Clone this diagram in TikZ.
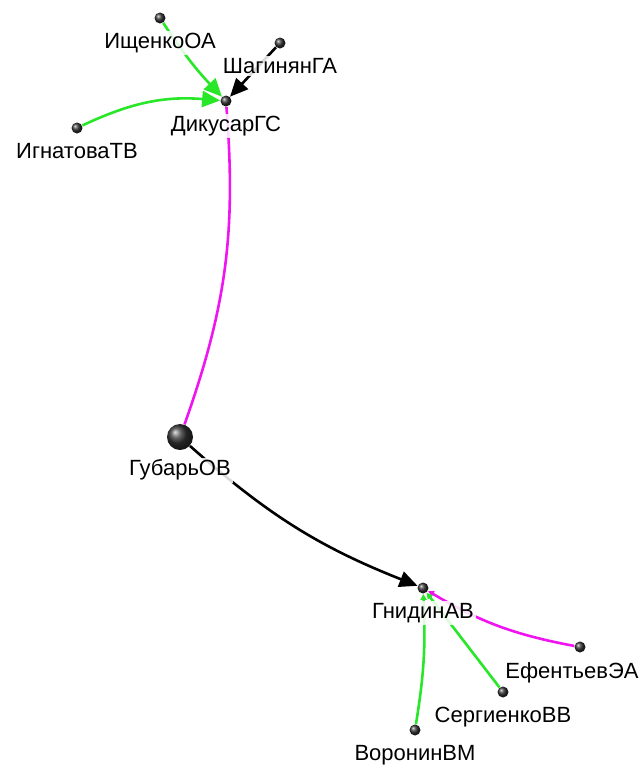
\documentclass[tikz,border=0pt]{standalone}
\usepackage{fontspec}
\setmainfont{Liberation Sans}
\usetikzlibrary{arrows.meta,backgrounds}
\definecolor{lgreen}{RGB}{40,230,40}
\definecolor{lmag}{RGB}{240,20,240}

\begin{document}
\begin{tikzpicture}[x=0.5pt,y=-0.5pt,font=\fontsize{11}{13}\selectfont,
  pt/.style={circle,inner sep=0pt,minimum size=5.5pt,shading=ball,ball color=black!80},
  big/.style={pt,minimum size=13pt},
  every label/.style={inner sep=1pt,yshift=-3.5pt,fill=white,fill opacity=0.85,text opacity=1},
  every edge/.append style={line width=1.3pt},
  tip/.style={-{Triangle[length=9pt,width=8pt]}},
  small/.style={-{Triangle[length=3pt,width=3pt]}}]
\useasboundingbox (0,0) rectangle (642,767);
\node[pt,label=below:ИщенкоОА]                      (ishchenko)  at (160,18)  {};
\node[pt,label=below:ШагинянГА]                     (shaginyan)  at (280,43)  {};
\node[pt,label=below:ДикусарГС]                     (dikusar)    at (226,101) {};
\node[pt,label=below:ИгнатоваТВ]                    (ignatova)   at (77,128)  {};
\node[big,label=below:ГубарьОВ]                     (gubar)      at (180,437) {};
\node[pt,label=below:ГнидинАВ]                      (gnidin)     at (423,588) {};
\node[pt,label={[xshift=-4pt]below:ЕфентьевЭА}]     (efentev)    at (580,647) {};
\node[pt,label=below:СергиенкоВВ]                   (sergienko)  at (503,692) {};
\node[pt,label=below:ВоронинВМ]                     (voronin)    at (415,730) {};
\begin{scope}[on background layer]
\path
	(ishchenko) edge[tip,lgreen,bend right=5] (dikusar)
	(shaginyan) edge[tip,black]               (dikusar)
	(ignatova)  edge[tip,lgreen,bend left=15] (dikusar)
	(dikusar)   edge[lmag,bend left=12]       (gubar)
	(gubar)     edge[tip,black,bend right=10] (gnidin)
	(efentev)   edge[small,lmag,bend left=10] (gnidin)
	(sergienko) edge[small,lgreen]            (gnidin)
	(voronin)   edge[small,lgreen,bend right=6] (gnidin)
; %-path-%
\end{scope}
\end{tikzpicture}
\end{document}
